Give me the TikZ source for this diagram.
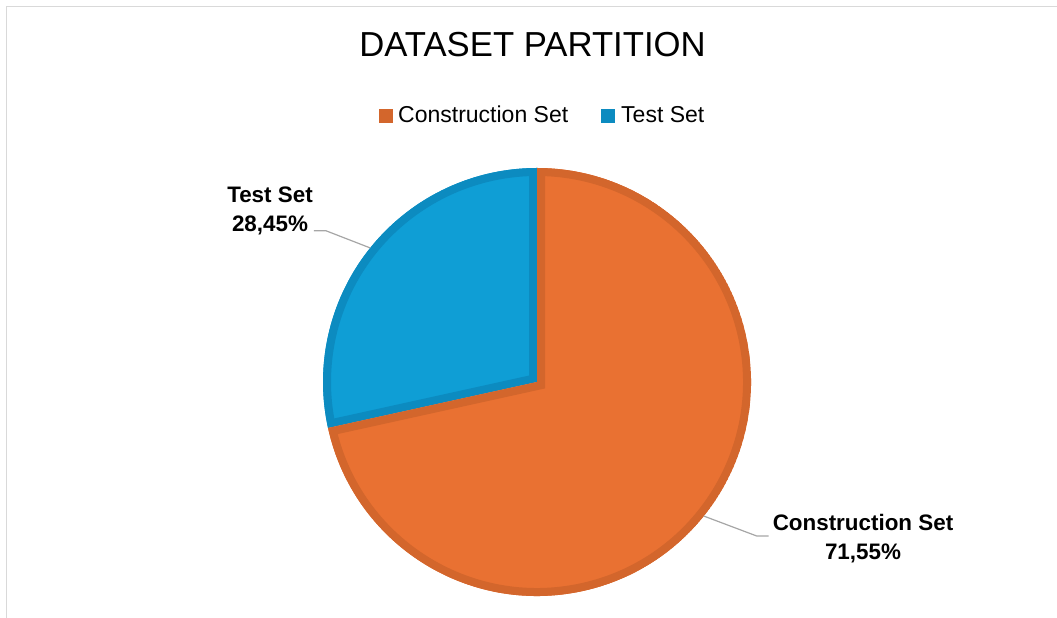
\documentclass[tikz,border=0pt]{standalone}
\usepackage{fontspec}
\setmainfont{Liberation Sans}
\usetikzlibrary{calc, positioning}
\definecolor{consfill}{HTML}{E97132}
\definecolor{consline}{HTML}{D3662C}
\definecolor{testfill}{HTML}{0F9ED5}
\definecolor{testline}{HTML}{0C8BC0}
\definecolor{leadgray}{HTML}{A6A6A6}
\definecolor{framegray}{HTML}{D9D9D9}

\begin{document}
\begin{tikzpicture}[x=1pt, y=1pt,
        slicebdr/.style={line width=16pt, line join=miter},
        leader/.style={draw=leadgray, line width=1.2pt},
        keybox/.style={minimum size=14pt, inner sep=0pt, anchor=south west},
        keytxt/.style={font=\fontsize{23}{27}\selectfont, inner sep=0pt, anchor=base west},
        lbl/.style={font=\fontsize{22.4}{29}\selectfont\bfseries, align=center, inner sep=0pt}]
    \useasboundingbox (0,0) rectangle (1057,618);
    % khung
    \draw[framegray, line width=1.5pt] (6.5,0) -- (6.5,611.5) -- (1057,611.5);

    % tieu de
    \node[anchor=base, font=\fontsize{34.7}{40}\selectfont] (title) at (532.5,561) {DATASET PARTITION};

    % chu thich
    \node[keybox, fill=consline] (conskey) at (379,495) {};
    \node[keytxt] (constxt) at (398,495.7) {Construction Set};
    \node[keybox, fill=testline] (testkey) at (601,495) {};
    \node[keytxt] (testtxt) at (621,495.7) {Test Set};

    % hinh quat
    \coordinate (c) at (537,236);
    \def\rad{214}
    \begin{scope}
        \clip (c) -- ++(90:\rad) arc (90:192.42:\rad) -- cycle;
        \fill[testfill] (c) -- ++(90:\rad) arc (90:192.42:\rad) -- cycle;
        \draw[testline, slicebdr] (c) -- ++(90:\rad) arc (90:192.42:\rad) -- cycle;
    \end{scope}
    \begin{scope}
        \clip (c) -- ++(192.42:\rad) arc (192.42:450:\rad) -- cycle;
        \fill[consfill] (c) -- ++(192.42:\rad) arc (192.42:450:\rad) -- cycle;
        \draw[consline, slicebdr] (c) -- ++(192.42:\rad) arc (192.42:450:\rad) -- cycle;
    \end{scope}

    % nhan
    \node[lbl] (testlbl) at (270,407.5) {Test Set\\28,45\%};
    \node[lbl] (conslbl) at (863,79.5) {Construction Set\\71,55\%};
    \coordinate (testtip) at ($(c)+(141.21:\rad)$);
    \coordinate (constip) at ($(c)+(321.21:\rad)$);
    \draw[leader] ([shift={(1,4)}]testlbl.south east) -- ++(12,0) -- (testtip);
    \draw[leader] (constip) -- ($(conslbl.north west)+(-16,-22)$) -- ++(12,0);
\end{tikzpicture}
\end{document}
